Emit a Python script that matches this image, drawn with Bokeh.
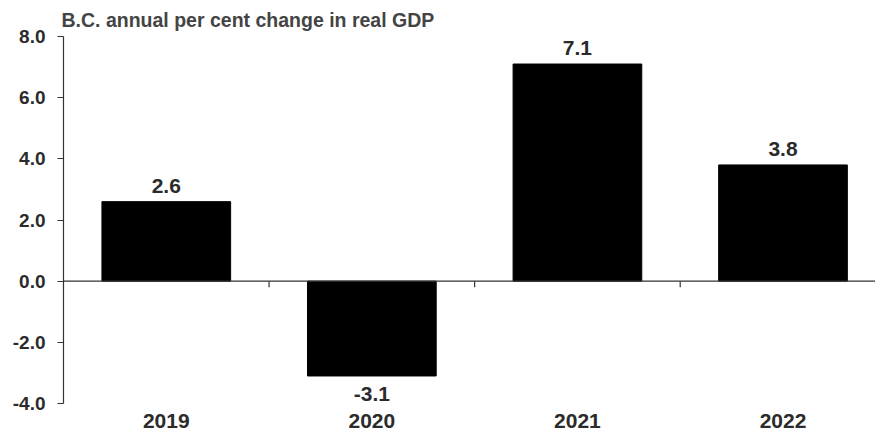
import math

from bokeh.plotting import figure
from bokeh.models import (ColumnDataSource, Range1d, FixedTicker, NumeralTickFormatter,
                          Span)
from bokeh.core.properties import value
from bokeh.embed import file_html
from bokeh.resources import INLINE

# B.C. real GDP growth, annual per cent change
years = ["2019", "2020", "2021", "2022"]
growth = [2.6, -3.1, 7.1, 3.8]
y_ticks = [-4.0, -2.0, 0.0, 2.0, 4.0, 6.0, 8.0]
title_text = "B.C. annual per cent change in real GDP"

FONT = "Liberation Sans"
TEXT = "#2b2b2b"

n = len(years)
centers = [i + 0.5 for i in range(n)]
boundaries = list(range(1, n))

src = ColumnDataSource(dict(
    x=centers,
    top=growth,
    label=[f"{v:.1f}" for v in growth],
    yoff=[-16 if v >= 0 else 18 for v in growth],
))

p = figure(width=875, height=436, output_backend="svg", toolbar_location=None,
           x_range=Range1d(0, 3.95), y_range=Range1d(-4, 8), title=title_text,
           min_border_left=63, min_border_right=0, min_border_top=36, min_border_bottom=33)
p.outline_line_color = None
p.xgrid.visible = False
p.ygrid.visible = False
p.background_fill_color = "white"
p.border_fill_color = "white"

# chart heading
p.title.align = "left"
p.title.offset = -2
p.title.standoff = 11
p.title.text_font = FONT
p.title.text_font_style = "bold"
p.title.text_font_size = "19.5px"
p.title.text_color = "#444444"

# bars
p.vbar(x="x", top="top", bottom=0, width=0.626, source=src,
       fill_color="black", line_color="black")

# value labels above / below each bar
p.text(x="x", y="top", text="label", source=src, y_offset="yoff",
       text_align="center", text_baseline="middle",
       text_font=value(FONT), text_font_style="bold", text_font_size="21px",
       text_color=TEXT)

# zero line with category separators hanging below it
p.add_layout(Span(location=0, dimension="width", line_color="#333333", line_width=1.2))
p.ray(x=boundaries, y=[0] * len(boundaries), length=6, length_units="screen",
      angle=-math.pi / 2, line_color="#333333", line_width=1.2)

# y axis
ya = p.yaxis[0]
ya.ticker = FixedTicker(ticks=y_ticks)
ya.formatter = NumeralTickFormatter(format="0.0")
ya.major_tick_out = 6
ya.major_tick_in = 0
ya.minor_tick_line_color = None
ya.axis_line_color = "#333333"
ya.axis_line_width = 1.2
ya.major_tick_line_color = "#333333"
ya.major_tick_line_width = 1.2
ya.major_label_standoff = 12
ya.major_label_text_font = FONT
ya.major_label_text_font_style = "bold"
ya.major_label_text_font_size = "19px"
ya.major_label_text_color = TEXT

# x axis: year labels only
xa = p.xaxis[0]
xa.ticker = FixedTicker(ticks=centers)
xa.major_label_overrides = {c: y for c, y in zip(centers, years)}
xa.axis_line_color = None
xa.major_tick_line_color = None
xa.minor_tick_line_color = None
xa.major_tick_out = 0
xa.major_label_standoff = 10
xa.major_label_text_font = FONT
xa.major_label_text_font_style = "bold"
xa.major_label_text_font_size = "21px"
xa.major_label_text_color = TEXT

open("out.html", "w").write(file_html(p, INLINE))
